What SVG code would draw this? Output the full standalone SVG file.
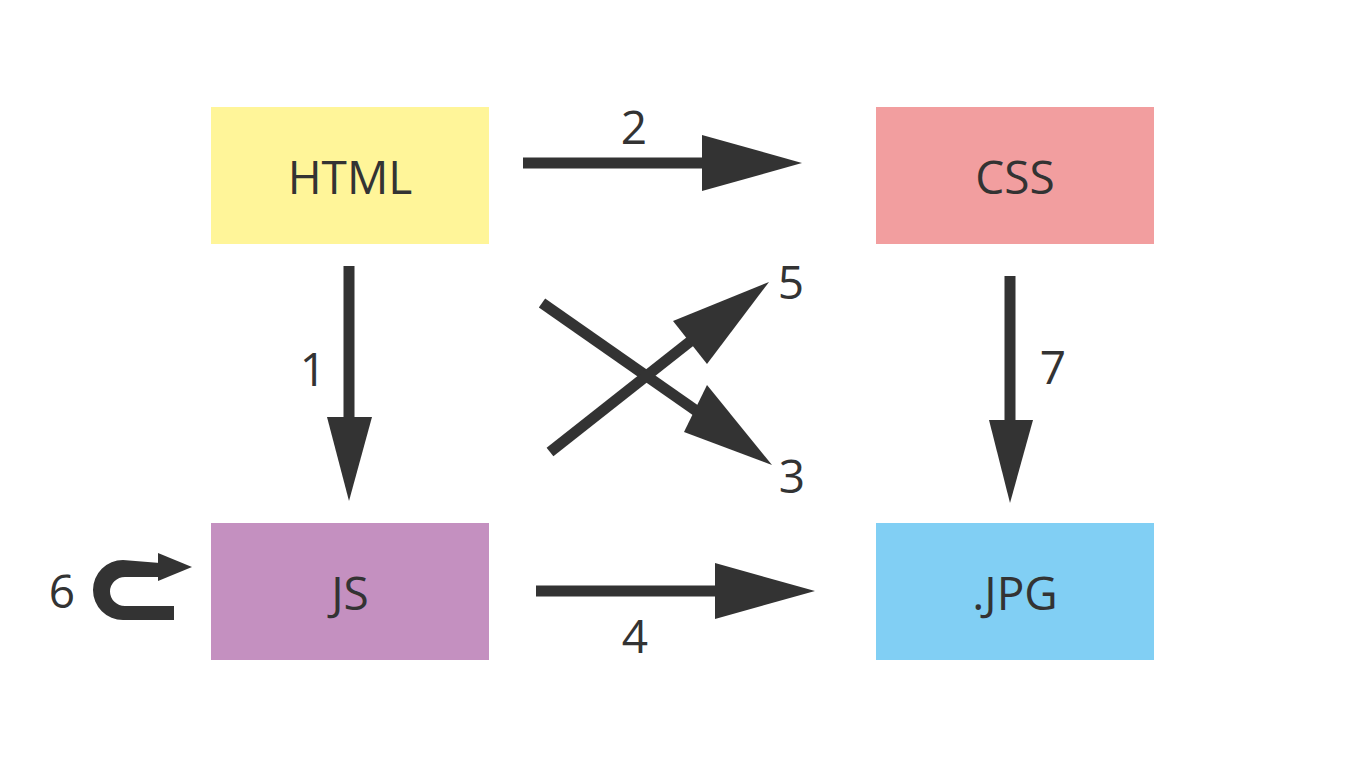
<svg xmlns="http://www.w3.org/2000/svg" width="1366" height="768" viewBox="0 0 1366 768">
<style>
.t{font-family:"Open Sans","Noto Sans",sans-serif;font-size:46px;fill:#333;text-anchor:middle}
.l{stroke:#333;stroke-width:11;fill:none}
.h{fill:#333}
</style>
<rect width="1366" height="768" fill="#fff"/>
<g id="html"><rect x="211" y="107" width="278" height="137" fill="#FFF599"/><text class="t" x="350" y="194">HTML</text></g>
<g id="css"><rect x="876" y="107" width="278" height="137" fill="#F29E9F"/><text class="t" x="1015" y="194">CSS</text></g>
<g id="js"><rect x="211" y="523" width="278" height="137" fill="#C490C0"/><text class="t" x="350" y="610">JS</text></g>
<g id="jpg"><rect x="876" y="523" width="278" height="137" fill="#81CFF4"/><text class="t" x="1015" y="610">.JPG</text></g>
<g id="connectors">
<line class="l" x1="523" y1="163" x2="705" y2="163"/><polygon class="h" points="702,135 802,163 702,191"/>
<line class="l" x1="349" y1="266" x2="349" y2="420"/><polygon class="h" points="327,417 372,417 349,501"/>
<line class="l" x1="536" y1="591" x2="718" y2="591"/><polygon class="h" points="715,563 815,591 715,619"/>
<line class="l" x1="1010" y1="276" x2="1010" y2="423"/><polygon class="h" points="989,420 1033,420 1010,503"/>
<line class="l" x1="542" y1="303" x2="698" y2="412"/><polygon class="h" points="684,432 707,385 772,465"/>
<line class="l" x1="550" y1="452" x2="692" y2="340"/><polygon class="h" points="673,321 707,364 769,282"/>
<path class="h" d="M174,620 L123,620 A30,30 0 0 1 123,560 L160,563 L160,577 L125,577 A15,14.5 0 0 0 125,606 L174,606 Z"/><polygon class="h" points="158,553 158,581 192,567"/>
</g>
<g id="labels">
<text class="t" x="634" y="144">2</text>
<text class="t" x="313" y="386">1</text>
<text class="t" x="791" y="299">5</text>
<text class="t" x="792" y="493">3</text>
<text class="t" x="1053" y="384">7</text>
<text class="t" x="635" y="653">4</text>
<text class="t" x="62" y="608">6</text>
</g>
</svg>
